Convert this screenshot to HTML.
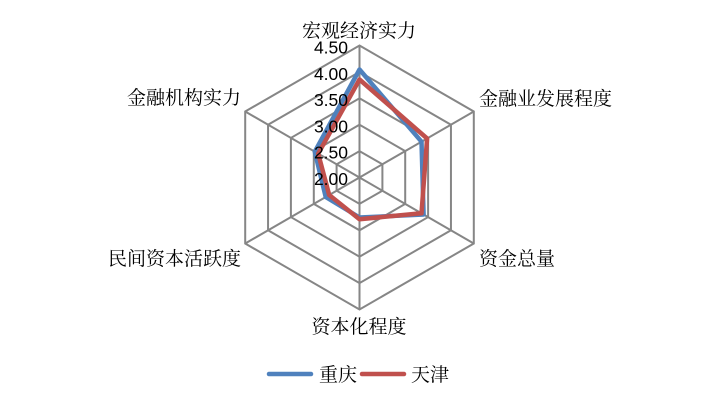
<!DOCTYPE html>
<html><head><meta charset="utf-8"><style>
html,body{margin:0;padding:0;background:#fff;}
svg{display:block;}
text{font-family:"Liberation Sans","Noto Serif CJK SC",serif;fill:#000;}
.num{font-family:"Liberation Sans","DejaVu Sans",sans-serif;}
</style></head><body>
<svg width="720" height="405" viewBox="0 0 720 405" xmlns="http://www.w3.org/2000/svg">
<g fill="none" stroke="#868686" stroke-width="2">
<g transform="translate(359.5,177.5)">
<polygon points="0,-132 114.3,-66 114.3,66 0,132 -114.3,66 -114.3,-66"/>
<polygon points="0,-105.6 91.45,-52.8 91.45,52.8 0,105.6 -91.45,52.8 -91.45,-52.8"/>
<polygon points="0,-79.2 68.6,-39.6 68.6,39.6 0,79.2 -68.6,39.6 -68.6,-39.6"/>
<polygon points="0,-52.8 45.7,-26.4 45.7,26.4 0,52.8 -45.7,26.4 -45.7,-26.4"/>
<polygon points="0,-26.4 22.9,-13.2 22.9,13.2 0,26.4 -22.9,13.2 -22.9,-13.2"/>
<line x1="0" y1="0" x2="0" y2="-132"/>
<line x1="0" y1="0" x2="114.3" y2="-66"/>
<line x1="0" y1="0" x2="114.3" y2="66"/>
<line x1="0" y1="0" x2="0" y2="132"/>
<line x1="0" y1="0" x2="-114.3" y2="66"/>
<line x1="0" y1="0" x2="-114.3" y2="-66"/>
</g>
</g>
<polygon fill="none" stroke="#4F81BD" stroke-width="4.5" stroke-linejoin="round" points="359.5,69.5 421.5,141.7 423.6,214.5 359.5,217.5 325.7,197 314.8,151.7"/>
<polygon fill="none" stroke="#C0504D" stroke-width="4.5" stroke-linejoin="round" points="359.5,79.5 427.1,138.5 421.5,213.3 359.5,219.2 329.2,195 318.2,153.7"/>
<g font-size="17.5" text-anchor="end" class="num">
<text class="num" x="348" y="53.5">4.50</text>
<text class="num" x="348" y="80">4.00</text>
<text class="num" x="348" y="106">3.50</text>
<text class="num" x="348" y="132.5">3.00</text>
<text class="num" x="348" y="158.5">2.50</text>
<text class="num" x="348" y="185">2.00</text>
</g>
<g font-size="19">
<text x="359" y="37" text-anchor="middle">宏观经济实力</text>
<text x="479" y="105">金融业发展程度</text>
<text x="479" y="265">资金总量</text>
<text x="359" y="333" text-anchor="middle">资本化程度</text>
<text x="241" y="265" text-anchor="end">民间资本活跃度</text>
<text x="241" y="104" text-anchor="end">金融机构实力</text>
<text x="319" y="381">重庆</text>
<text x="411" y="381">天津</text>
</g>
<line x1="269" y1="374" x2="311" y2="374" stroke="#4F81BD" stroke-width="4.5" stroke-linecap="round"/>
<line x1="362" y1="374" x2="404" y2="374" stroke="#C0504D" stroke-width="4.5" stroke-linecap="round"/>
</svg>
</body></html>
